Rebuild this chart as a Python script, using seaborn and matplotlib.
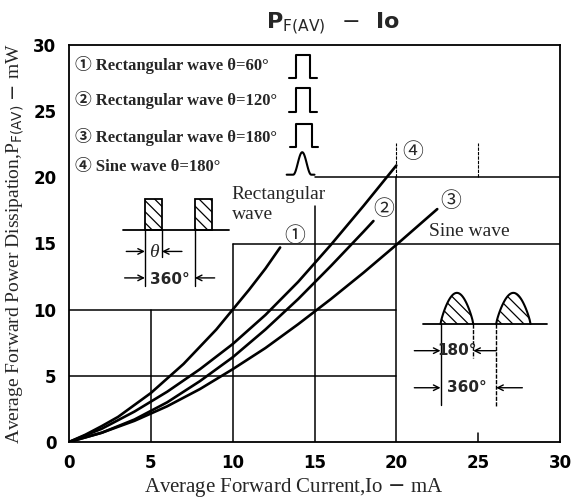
import numpy as np
import pandas as pd
import matplotlib
matplotlib.use('Agg')
import matplotlib.pyplot as plt
from matplotlib.patches import Rectangle
import seaborn as sns

# curve data (Io in mA, PF(AV) in mW)
io_1 = [0, 1, 2, 3, 4, 5, 6, 7, 8, 9, 10, 11, 12, 12.9]
pf_1 = [0, 0.55, 1.2, 1.9, 2.8, 3.7, 4.8, 5.9, 7.2, 8.5, 10.0, 11.5, 13.1, 14.7]
io_2 = [0, 2, 4, 6, 8, 10, 12, 14, 16, 18, 18.6]
pf_2 = [0, 0.7, 1.7, 3.0, 4.6, 6.4, 8.5, 10.8, 13.3, 15.9, 16.7]
io_3 = [0, 2, 4, 6, 8, 10, 12, 14, 16, 18, 20, 22.5]
pf_3 = [0, 0.7, 1.6, 2.7, 4.0, 5.5, 7.1, 8.9, 10.8, 12.8, 14.9, 17.6]
io_4 = [0, 2, 4, 6, 8, 10, 12, 14, 16, 18, 20]
pf_4 = [0, 1.0, 2.3, 3.8, 5.5, 7.4, 9.6, 12.1, 14.9, 17.85, 20.9]
curve_ids = ['1', '2', '3', '4']
curve_marks = ['①', '②', '③', '④']
mark_pos = [(13.8, 15.5), (19.2, 17.5), (23.3, 18.1), (21.0, 21.8)]
legend_lines = ['① Rectangular wave θ=60°', '② Rectangular wave θ=120°',
                '③ Rectangular wave θ=180°', '④ Sine wave θ=180°']
ticks = [0, 5, 10, 15, 20, 25, 30]

frames = []
for cid, xs, ys in zip(curve_ids, [io_1, io_2, io_3, io_4], [pf_1, pf_2, pf_3, pf_4]):
    frames.append(pd.DataFrame({'Io': xs, 'PF': ys, 'curve': cid}))
df = pd.concat(frames, ignore_index=True)

sns.set_style('white')
serif = ['Liberation Serif', 'Noto Sans CJK JP', 'DejaVu Sans']
sans = ['DejaVu Sans']
plt.rcParams['font.family'] = serif
plt.rcParams['hatch.linewidth'] = 0.9

fig = plt.figure(figsize=(5.71, 5.0), dpi=100)
ax = fig.add_axes([69/571, 1-442/500, (560-69)/571, (442-45)/500])

sns.lineplot(data=df, x='Io', y='PF', hue='curve', units='curve', estimator=None,
             palette={c: 'black' for c in curve_ids}, linewidth=1.9, sort=False,
             legend=False, ax=ax)

ax.set_xlim(0, 30)
ax.set_ylim(0, 30)
ax.set_xticks(ticks)
ax.set_yticks(ticks)
for lab in ax.get_xticklabels() + ax.get_yticklabels():
    lab.set_family(sans)
    lab.set_fontweight('bold')
    lab.set_fontsize(12)
ax.tick_params(direction='in', length=4, width=1, pad=9, colors='black')
for s in ax.spines.values():
    s.set_visible(True)
    s.set_color('black')
    s.set_linewidth(1.3)
ax.set_xlabel('Average Forward Current,Io $-$ mA', fontsize=15, family=serif)
ax.xaxis.set_label_coords(0.458, -0.085)
ax.set_ylabel('Average Forward Power Dissipation,P$_{\\mathrm{F(AV)}}$ $-$ mW',
              fontsize=14, family=serif)
ax.yaxis.set_label_coords(-0.088, 0.50)

# partial grid (only where the chart draws it)
hseg = [(5, 0, 20), (10, 0, 20), (15, 10, 30), (20, 15, 30)]
vseg = [(5, 0, 10), (10, 0, 15), (15, 0, 17.8), (20, 0, 20), (25, 0, 0.7)]
for y, x0, x1 in hseg:
    ax.plot([x0, x1], [y, y], color='black', lw=1.1)
for x, y0, y1 in vseg:
    ax.plot([x, x], [y0, y1], color='black', lw=1.1)
for x in [20, 25]:
    ax.plot([x, x], [20, 22.6], color='black', lw=0.8, ls=(0, (3, 1)))

# legend text
for i, t in enumerate(legend_lines):
    ax.text(0.35, [28.5, 25.85, 23.05, 20.8][i], t, fontsize=12, family=serif,
            fontweight='bold', va='center', ha='left')

# legend icons
for (c, w, y0, h) in [(14.3, 0.8, 27.5, 1.75), (14.3, 0.9, 24.9, 1.85), (14.35, 1.0, 22.3, 1.7)]:
    ax.plot([c-0.85, c-w/2, c-w/2, c+w/2, c+w/2, c+0.85], [y0, y0, y0+h, y0+h, y0, y0],
            color='black', lw=1.5)
sx = np.linspace(13.7, 14.8, 30)
ax.plot(np.r_[13.3, sx, 15.0], np.r_[20.2, 20.2 + 1.7*np.sin(np.pi*(sx-13.7)/1.1)**2, 20.2],
        color='black', lw=1.5)

# curve number marks
for m, (x, y) in zip(curve_marks, mark_pos):
    ax.text(x, y, m, fontsize=15, family=serif, ha='center', va='center')

# rectangular wave sketch
ax.text(9.95, 18.7, 'Rectangular', fontsize=14, family=serif, va='center')
ax.text(9.95, 17.2, 'wave', fontsize=14, family=serif, va='center')
ax.plot([3.3, 9.8], [16.0, 16.0], color='black', lw=1.3)
for x0 in [4.64, 7.69]:
    ax.add_patch(Rectangle((x0, 16.0), 1.04, 2.4, facecolor='none', edgecolor='black',
                           hatch='\\\\\\', lw=1.3, zorder=3))
ax.plot([4.64, 4.64], [16.0, 11.8], color='black', lw=1)
ax.plot([5.68, 5.68], [16.0, 14.0], color='black', lw=1)
ax.plot([7.69, 7.69], [16.0, 11.8], color='black', lw=1)
arw = dict(arrowstyle='->', lw=1, color='black', shrinkA=0, shrinkB=0)
ax.annotate('', xy=(4.64, 14.4), xytext=(3.5, 14.4), arrowprops=arw)
ax.annotate('', xy=(5.68, 14.4), xytext=(6.9, 14.4), arrowprops=arw)
ax.annotate('', xy=(4.64, 12.4), xytext=(3.4, 12.4), arrowprops=arw)
ax.annotate('', xy=(7.69, 12.4), xytext=(8.9, 12.4), arrowprops=arw)
ax.text(5.16, 14.3, 'θ', fontsize=14, family=serif, style='italic', ha='center', va='center')
ax.text(6.17, 12.3, '360°', fontsize=11, family=sans, fontweight='bold', ha='center', va='center')

# sine wave sketch
ax.text(22.0, 15.9, 'Sine wave', fontsize=14, family=serif, va='center')
ax.plot([21.6, 29.2], [8.92, 8.92], color='black', lw=1.3)
for a, b in [(22.7, 24.7), (26.1, 28.2)]:
    bx = np.linspace(a, b, 40)
    by = 8.92 + 2.35*np.sin(np.pi*(bx-a)/(b-a))**0.8
    ax.fill_between(bx, 8.92, by, facecolor='none', edgecolor='black', hatch='\\\\\\', lw=0)
    ax.plot(bx, by, color='black', lw=1.5)
ax.plot([22.7, 22.7], [8.92, 2.8], color='black', lw=1)
ax.plot([24.7, 24.7], [8.92, 6.35], color='black', lw=1, ls=(0, (3, 1)))
ax.plot([26.1, 26.1], [8.92, 2.65], color='black', lw=1, ls=(0, (3, 1)))
ax.annotate('', xy=(22.7, 6.9), xytext=(21.1, 6.9), arrowprops=arw)
ax.annotate('', xy=(24.7, 6.9), xytext=(26.1, 6.9), arrowprops=arw)
ax.annotate('', xy=(22.7, 4.1), xytext=(21.1, 4.1), arrowprops=arw)
ax.annotate('', xy=(26.1, 4.1), xytext=(27.7, 4.1), arrowprops=arw)
ax.text(23.7, 6.9, '180°', fontsize=11, family=sans, fontweight='bold', ha='center', va='center')
ax.text(24.3, 4.1, '360°', fontsize=11, family=sans, fontweight='bold', ha='center', va='center')

fig.text(333/571, 1-24/500, 'P$_{\\mathrm{F(AV)}}$  $-$  Io', fontsize=16, family=sans,
         fontweight='bold', ha='center', va='center')

fig.savefig('out.png', dpi=100)
